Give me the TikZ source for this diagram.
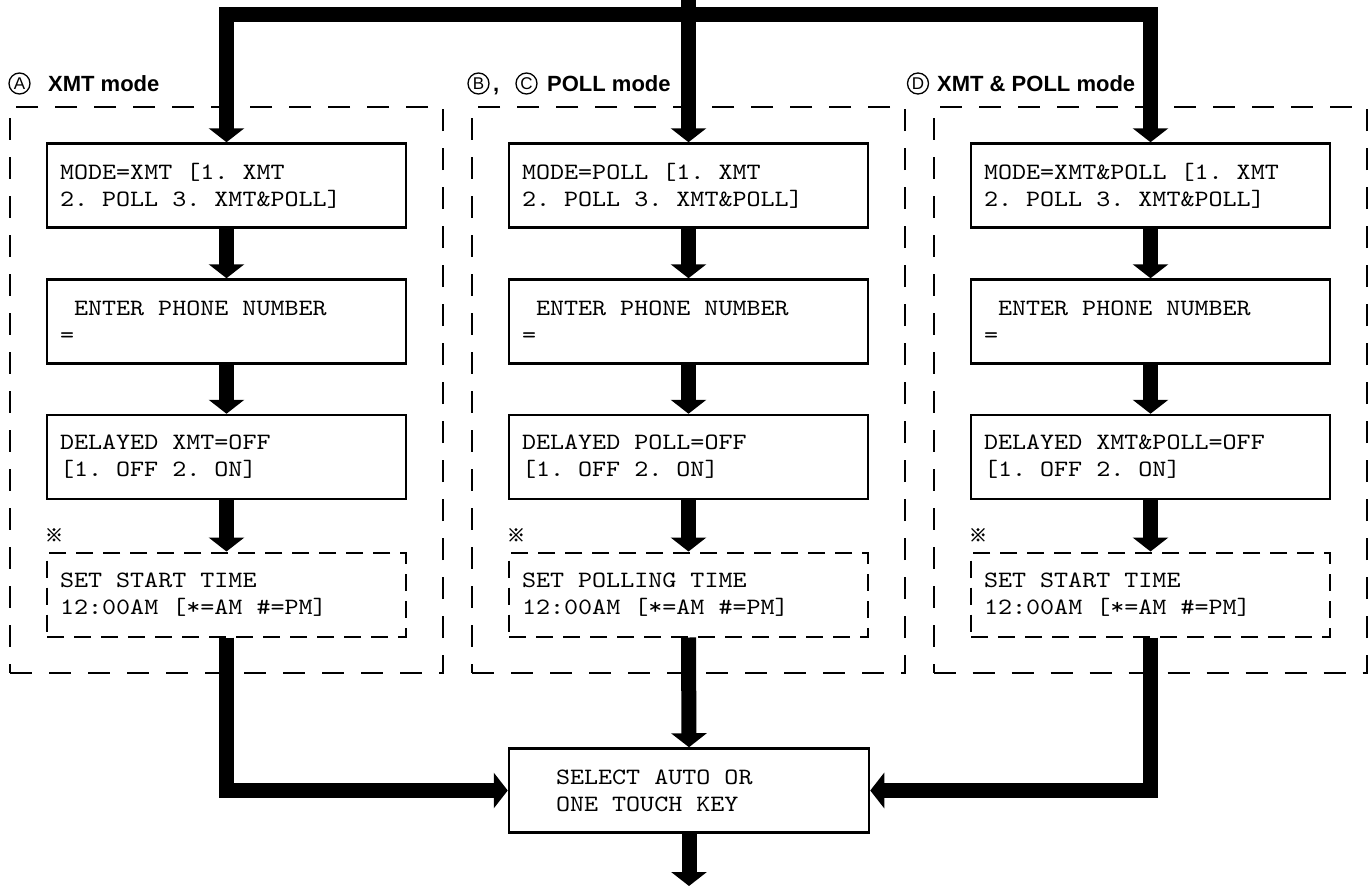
\documentclass[tikz,border=0pt]{standalone}
\usepackage{fontspec}
\setmainfont{Liberation Sans}
\newfontfamily\boxfont{lmmono10-regular.otf}[FakeStretch=1.143]
\newfontfamily\cjkfont{Noto Sans CJK JP}[FakeBold=1.5]
\newcommand\boxsetup{\boxfont\fontsize{23.4}{27}\selectfont\frenchspacing}
\newcommand\monospaces{\spaceskip=14.04pt\relax\xspaceskip=14.04pt\relax}
\usetikzlibrary{arrows.meta}
\tikzset{
  fat/.style={line width=15pt, -{Triangle[width=35pt,length=14pt]}},
  fatbar/.style={line width=15pt, line cap=rect},
  fatjoin/.style={line width=15pt, line join=miter, -{Triangle[width=35pt,length=14pt]}},
  stepbox/.style={draw, line width=2.5pt, rectangle, minimum width=359pt, minimum height=84pt,
    text width=333pt, inner xsep=13pt, inner ysep=0pt, align=left, font=\boxsetup,
    execute at begin node=\monospaces},
  dashbox/.style={stepbox, line width=2pt, dash pattern=on 17pt off 10pt},
  groupbox/.style={draw, line width=2pt, dash pattern=on 22pt off 17pt, rectangle,
    minimum width=433pt, minimum height=566pt, inner sep=0pt},
  circ/.style={draw, circle, line width=1.3pt, minimum size=21pt, inner sep=0pt,
    font=\fontsize{17}{17}\selectfont},
  lbl/.style={anchor=base west, inner sep=0pt, font=\bfseries\fontsize{22}{22}\selectfont},
  note/.style={inner sep=0pt, font=\cjkfont\fontsize{18}{18}\selectfont},
}
\begin{document}
\begin{tikzpicture}[x=1pt,y=-1pt]
\useasboundingbox (0,0) rectangle (1369,886);
\fill[white] (0,0) rectangle (1369,886);

% group frames
\node[groupbox] (ga) at (226.5,390) {};
\node[groupbox] (gb) at (688.5,390) {};
\node[groupbox] (gd) at (1150,390) {};

% labels
\node[circ] (ca) at (19.5,83.5) {A};
\node[lbl] (la) at (48,91) {XMT mode};
\node[circ] (cb) at (478.5,83.5) {B};
\node[lbl] (lcomma) at (493,91) {,};
\node[circ] (cc) at (526.5,83.5) {C};
\node[lbl] (lb) at (547,91) {POLL mode};
\node[circ] (cd) at (918,83.5) {D};
\node[lbl] (ld) at (937,91) {XMT \& POLL mode};

% column A
\node[stepbox] (a1) at (226.5,185.5) {MODE=XMT [1. XMT\\2. POLL 3. XMT\&POLL]};
\node[stepbox] (a2) at (226.5,321.5) {\hspace*{14pt}ENTER PHONE NUMBER\\=};
\node[stepbox] (a3) at (226.5,457) {DELAYED XMT=OFF\\{}[1. OFF 2. ON]};
\node[note] (na) at (54,535) {※};
\node[dashbox] (a4) at (226.5,594.5) {SET START TIME\\12:00AM [*=AM \#=PM]};

% column B
\node[stepbox] (b1) at (688.5,185.5) {MODE=POLL [1. XMT\\2. POLL 3. XMT\&POLL]};
\node[stepbox] (b2) at (688.5,321.5) {\hspace*{14pt}ENTER PHONE NUMBER\\=};
\node[stepbox] (b3) at (688.5,457) {DELAYED POLL=OFF\\{}[1. OFF 2. ON]};
\node[note] (nb) at (516,535) {※};
\node[dashbox] (b4) at (688.5,594.5) {SET POLLING TIME\\12:00AM [*=AM \#=PM]};

% column D
\node[stepbox] (d1) at (1150.5,185.5) {MODE=XMT\&POLL [1. XMT\\2. POLL 3. XMT\&POLL]};
\node[stepbox] (d2) at (1150.5,321.5) {\hspace*{14pt}ENTER PHONE NUMBER\\=};
\node[stepbox] (d3) at (1150.5,457) {DELAYED XMT\&POLL=OFF\\{}[1. OFF 2. ON]};
\node[note] (nd) at (978,535) {※};
\node[dashbox] (d4) at (1150.5,594.5) {SET START TIME\\12:00AM [*=AM \#=PM]};

% select box
\node[stepbox, minimum width=360pt, text width=266pt, inner xsep=47pt] (sel) at (689,790.5)
  {SELECT AUTO OR\\ONE TOUCH KEY};

% top connectors
\coordinate (topc) at (688.5,0);
\coordinate (tl) at (226.5,14.5);
\coordinate (tr) at (1150.5,14.5);
\coordinate (outp) at (689,886);
\draw[fatbar] (tl) -- (tr);
\draw[fat] (topc) -- (b1.north);
\draw[fat] (tl) -- (a1.north);
\draw[fat] (tr) -- (d1.north);

% column connectors
\draw[fat] (a1.south) -- (a2.north);
\draw[fat] (a2.south) -- (a3.north);
\draw[fat] (a3.south) -- (a4.north);
\draw[fat] (b1.south) -- (b2.north);
\draw[fat] (b2.south) -- (b3.north);
\draw[fat] (b3.south) -- (b4.north);
\draw[fat] (d1.south) -- (d2.north);
\draw[fat] (d2.south) -- (d3.north);
\draw[fat] (d3.south) -- (d4.north);

% bottom connectors
\draw[fatjoin] (a4.south) |- (sel.west);
\draw[fatjoin] (d4.south) |- (sel.east);
\draw[fat] (b4.south) -- (sel.north);
\draw[fat] (sel.south) -- (outp);
\end{tikzpicture}
\end{document}
